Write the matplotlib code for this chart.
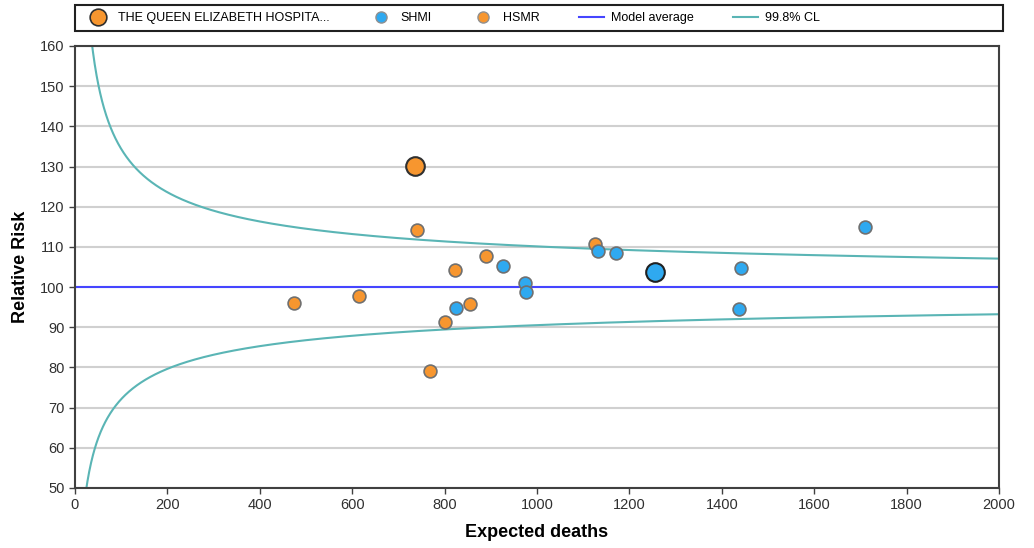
import numpy as np
import matplotlib.pyplot as plt
from matplotlib.patches import Rectangle
from matplotlib.lines import Line2D

plt.rcParams['font.family'] = ['Liberation Sans', 'DejaVu Sans']

# HSMR peers (expected deaths, relative risk)
hsmr_expected = [474, 615, 740, 822, 890, 855, 801, 768, 1126]
hsmr_risk = [96.0, 97.8, 114.2, 104.3, 107.7, 95.8, 91.3, 79.1, 110.7]

# SHMI peers
shmi_expected = [825, 926, 974, 976, 1132, 1171, 1442, 1437, 1710]
shmi_risk = [94.8, 105.2, 101.0, 98.8, 109.0, 108.5, 104.7, 94.5, 115.0]

# highlighted trust
trust_name = 'THE QUEEN ELIZABETH HOSPITA...'
trust_hsmr = (736, 130.1)
trust_shmi = (1255, 103.8)

model_average = 100
# 99.8% control limits: 100 +/- z*100/sqrt(E) with a small skew term
z = 3.09
skew_up = 350
skew_low = 300

orange = '#F7962F'
blue = '#2FA9F0'
teal = '#5AB5B5'
avg_blue = '#4545FF'

fig = plt.figure(figsize=(10.34, 5.48), dpi=100)
ax = fig.add_axes([0.0725, 0.1095, 0.8936, 0.8066])

E = np.linspace(15, 2000, 2000)
upper = model_average + z * 100 / np.sqrt(E) + skew_up / E
lower = model_average - z * 100 / np.sqrt(E) + skew_low / E

ax.grid(axis='y', color='#D0D0D0', linewidth=1.5, zorder=0)
ax.plot(E, upper, color=teal, linewidth=1.5, zorder=2)
ax.plot(E, lower, color=teal, linewidth=1.5, zorder=2)
ax.axhline(model_average, color=avg_blue, linewidth=1.5, zorder=2)

ax.scatter(hsmr_expected, hsmr_risk, s=85, color=orange, edgecolor='#707070',
           linewidth=1.2, zorder=3)
ax.scatter(shmi_expected, shmi_risk, s=85, color=blue, edgecolor='#707070',
           linewidth=1.2, zorder=3)
ax.scatter(*trust_hsmr, s=180, color=orange, edgecolor='#303030', linewidth=1.5, zorder=4)
ax.scatter(*trust_shmi, s=180, color=blue, edgecolor='#202020', linewidth=1.5, zorder=4)

ax.set_xlim(0, 2000)
ax.set_ylim(50, 160)
ax.set_xticks(range(0, 2001, 200))
ax.set_yticks(range(50, 161, 10))
ax.tick_params(direction='out', length=4, width=1, color='#404040', labelsize=10.5,
               labelcolor='#303030')
for s in ax.spines.values():
    s.set_color('#404040')
    s.set_linewidth(1.5)

ax.set_xlabel('Expected deaths', fontsize=13, fontweight='bold', labelpad=8)
ax.set_ylabel('Relative Risk', fontsize=13, fontweight='bold', labelpad=8)

# legend box across the top
fig.patches.append(Rectangle((75 / 1034, 1 - 31 / 548), (1003 - 75) / 1034, 26 / 548,
                             transform=fig.transFigure, facecolor='white',
                             edgecolor='#202020', linewidth=1.5))
handles = [
    Line2D([], [], marker='o', linestyle='none', markersize=12, markerfacecolor=orange,
           markeredgecolor='#303030', markeredgewidth=1.2),
    Line2D([], [], marker='o', linestyle='none', markersize=8, markerfacecolor=blue,
           markeredgecolor='#909090'),
    Line2D([], [], marker='o', linestyle='none', markersize=8, markerfacecolor=orange,
           markeredgecolor='#909090'),
    Line2D([], [], color=avg_blue, linewidth=1.5),
    Line2D([], [], color=teal, linewidth=1.5),
]
labels = [trust_name, 'SHMI', 'HSMR', 'Model average', '99.8% CL']
fig.legend(handles, labels, loc='center left', bbox_to_anchor=(79 / 1034, 1 - 18 / 548),
           ncol=5, frameon=False, fontsize=9, handlelength=2.0, handletextpad=0.6,
           columnspacing=3.1, borderpad=0)

fig.savefig('out.png', dpi=100)
